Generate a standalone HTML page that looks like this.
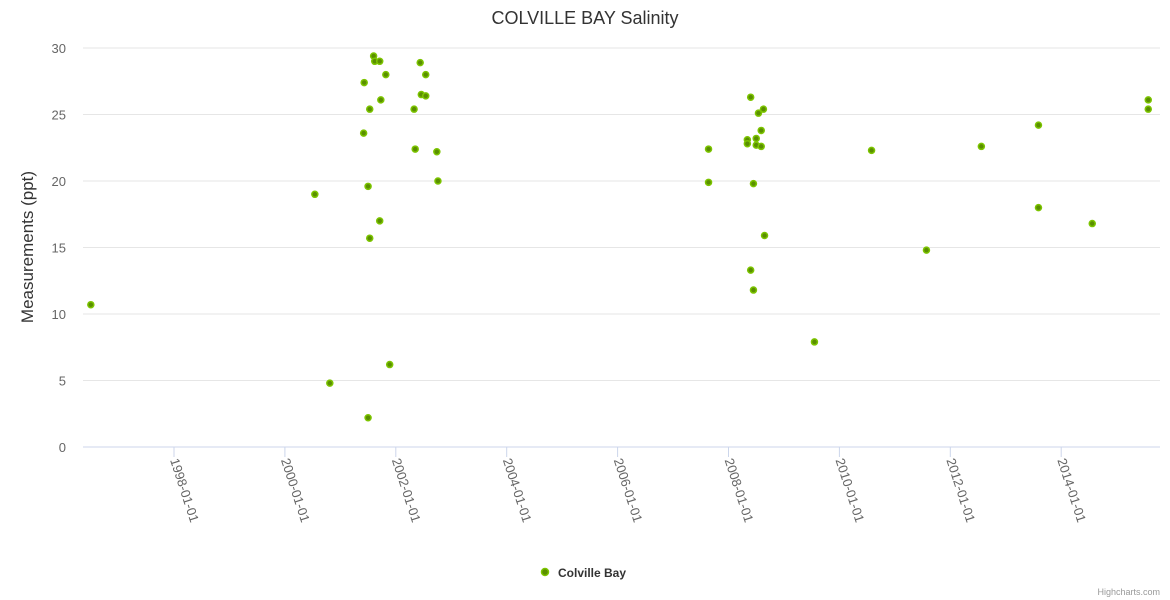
<!DOCTYPE html>
<html><head><meta charset="utf-8">
<style>
body{margin:0;background:#fff;font-family:"Liberation Sans",sans-serif;}
svg{display:block}
</style></head>
<body>
<svg id="chart" width="1170" height="600">
<text x="585" y="24" text-anchor="middle" font-size="18" fill="#333">COLVILLE BAY Salinity</text>
<text transform="translate(33,247) rotate(-90)" text-anchor="middle" font-size="17" fill="#333">Measurements (ppt)</text>
<g id="grid"></g><g id="yticks"></g><g id="xticks"></g><g id="points"></g>
<g>
<circle cx="545" cy="572" r="3.5" fill="#5a8f00" stroke="#7cc400" stroke-width="1.5"></circle>
<text x="558" y="577" font-size="12" font-weight="bold" fill="#333">Colville Bay</text>
</g>
<text x="1160" y="595" text-anchor="end" font-size="9" fill="#999">Highcharts.com</text>
</svg>
<script>
const yTicks=[0,5,10,15,20,25,30];
const xTickYears=[1998,2000,2002,2004,2006,2008,2010,2012,2014];
const xTickLabels=["1998-01-01","2000-01-01","2002-01-01","2004-01-01","2006-01-01","2008-01-01","2010-01-01","2012-01-01","2014-01-01"];
const dates=[1996.50,2000.54,2000.81,2001.42,2001.43,2001.50,2001.50,2001.53,2001.53,2001.60,2001.62,2001.71,2001.71,2001.73,2001.82,2001.89,2002.33,2002.35,2002.44,2002.46,2002.54,2002.54,2002.74,2002.76,2007.64,2007.64,2008.34,2008.34,2008.40,2008.40,2008.45,2008.45,2008.50,2008.50,2008.54,2008.59,2008.59,2008.63,2008.65,2009.55,2010.58,2011.57,2012.56,2013.59,2013.59,2014.56,2015.57,2015.57];
const values=[10.7,19.0,4.8,23.6,27.4,2.2,19.6,15.7,25.4,29.4,29.0,29.0,17.0,26.1,28.0,6.2,25.4,22.4,28.9,26.5,28.0,26.4,22.2,20.0,22.4,19.9,23.1,22.8,26.3,13.3,19.8,11.8,23.2,22.7,25.1,23.8,22.6,25.4,15.9,7.9,22.3,14.8,22.6,24.2,18.0,16.8,26.1,25.4];
const NS="http://www.w3.org/2000/svg";
const X0=83,X1=1160,Y0=447,Y1=48;
function xs(yr){return 174+(yr-1998)*55.45;}
function ys(v){return Y0-(v/30)*(Y0-Y1);}
function mk(t,a,p){const e=document.createElementNS(NS,t);for(const k in a)e.setAttribute(k,a[k]);p.appendChild(e);return e;}
const grid=document.getElementById('grid'),yt=document.getElementById('yticks'),xt=document.getElementById('xticks'),pts=document.getElementById('points');
yTicks.forEach(v=>{
 const l=mk('line',{x1:X0,x2:X1,y1:ys(v),y2:ys(v),stroke:v===0?'#ccd6eb':'#e6e6e6','stroke-width':1},grid);
 
 
 const t=mk('text',{x:66,y:ys(v)+5,'text-anchor':'end','font-size':13,fill:'#666'},yt);
 t.textContent=v;
 
 
});
xTickYears.forEach((yr,i)=>{
 const x=xs(yr);
 mk('line',{x1:x,x2:x,y1:Y0,y2:Y0+10,stroke:'#ccd6eb'},xt);
 const t=mk('text',{x:0,y:0,'font-size':13,fill:'#666',transform:`translate(${x-4},${Y0+13}) rotate(72)`},xt);
 t.textContent=xTickLabels[i];
 
 
});
dates.forEach((d,i)=>{
 const c=mk('circle',{cx:xs(d),cy:ys(values[i]),r:3,fill:'#5a8f00',stroke:'#7cc400','stroke-width':1.5},pts);
 
 
});
</script>
</body></html>
